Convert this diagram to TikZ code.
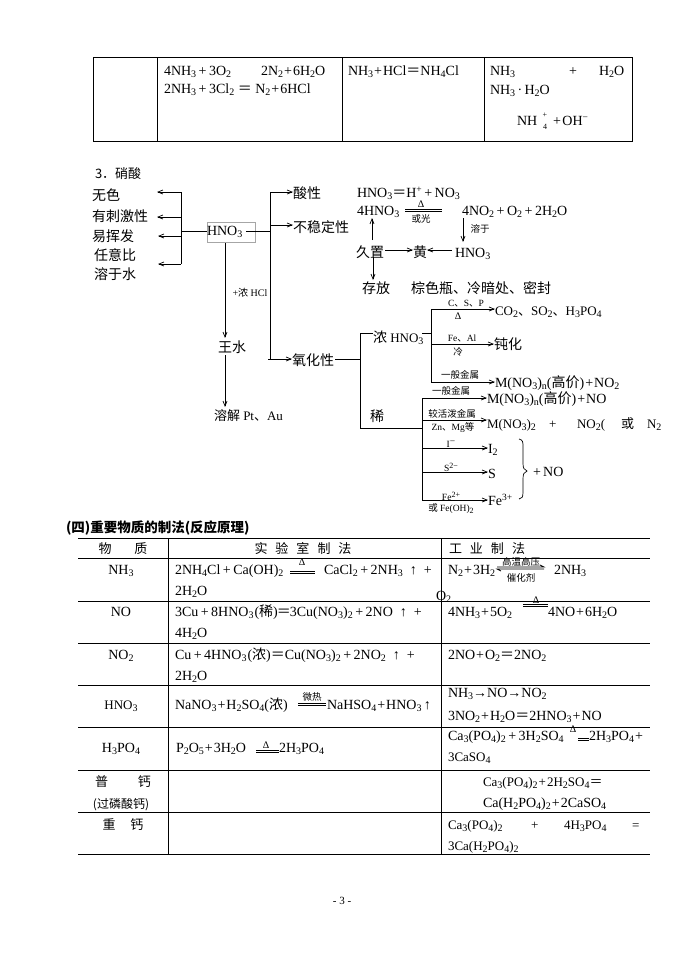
\documentclass[tikz,border=0pt]{standalone}
\usepackage{fontspec}
\setmainfont{Liberation Serif}
\newfontfamily\cj{Noto Sans CJK SC}
\usetikzlibrary{arrows.meta}
\newcommand\su[1]{\raisebox{-2.6pt}{\fontsize{10}{10}\selectfont #1}}
\newcommand\sq[1]{\raisebox{5pt}{\fontsize{9.5}{10}\selectfont #1}}
\newcommand\pl{\kern1pt+\kern1pt}
\newcommand\plw{\kern2.5pt+\kern2.5pt}
\newcommand\eq{{\cj ＝}}
\newcommand\T[4]{\node[txt] (#1) at (#2,#3) {#4};}
\newcommand\Tn[4]{\node[txt,narrow] (#1) at (#2,#3) {#4};}
\newcommand\Tc[4]{\node[ctxt] (#1) at (#2,#3) {#4};}
\newcommand\Sm[4]{\node[smtxt] (#1) at (#2,#3) {#4};}
\newcommand\Dl[3]{\draw[rule] (#1,#3) -- (#2,#3); \draw[rule] (#1,#3+2) -- (#2,#3+2);}
\tikzset{
  txt/.style={inner sep=0pt,outer sep=0pt,anchor=base west,font=\fontsize{14}{16}\selectfont},
  narrow/.style={font=\fontsize{13}{15}\selectfont},
  ctxt/.style={txt,anchor=base},
  smtxt/.style={inner sep=0pt,outer sep=0pt,anchor=center,font=\fontsize{9.5}{10}\selectfont},
  delta/.style={smtxt,font=\fontsize{10}{10}\selectfont},
  big/.style={font=\fontsize{14}{16}\selectfont\cj},
  cjh/.style={ctxt,font=\fontsize{13}{15}\selectfont\cj},
  rule/.style={line width=0.7pt,black},
  tab/.style={line width=0.9pt,black},
  arr/.style={line width=0.7pt,-{Straight Barb[length=5pt,width=4pt]}},
  con/.style={line width=0.7pt}
}
\begin{document}
\begin{tikzpicture}[x=1pt,y=-1pt]
\useasboundingbox[fill=white] (0,0) rectangle (688,972);
% top table
\draw[tab] (93,57) rectangle (632,141);
\foreach \x in {157,342,484} \draw[tab] (\x,57) -- (\x,141);
\T{a1}{164}{75}{4NH\su3\plw3O\su2}
\T{a2}{261}{75}{2N\su2\pl6H\su2O}
\T{a3}{164}{93}{2NH\su3\plw3Cl\su2\ \eq\ N\su2\pl6HCl}
\T{a4}{348}{75}{NH\su3\pl HCl\eq NH\su4Cl}
\T{a5}{490}{75}{NH\su3}
\T{a6}{569}{75}{+}
\T{a7}{599}{75}{H\su2O}
\T{a8}{490}{94}{NH\su3\,·\,H\su2O}
\T{a9}{517}{125}{NH}
\node[smtxt,font=\fontsize{8}{8}\selectfont] (a9p) at (545,115.5) {+};
\node[smtxt,font=\fontsize{8}{8}\selectfont] (a9q) at (545,127) {4};
\T{a9r}{553}{125}{+\kern1.5pt OH\sq{−}}
% section 3
\node[txt,narrow,cjh,anchor=base west] (s3) at (95,178) {3．硝酸};
\node[txt,big] (p1) at (92,200) {无色};
\node[txt,big] (p2) at (92,221) {有刺激性};
\node[txt,big] (p3) at (92,241) {易挥发};
\node[txt,big] (p4) at (94,260) {任意比};
\node[txt,big] (p5) at (94,279) {溶于水};
\node[inner sep=0pt,outer sep=0pt,draw=black!35,line width=0.8pt,minimum width=48pt,minimum height=20pt,text width=48pt,align=left,anchor=north west,font=\fontsize{14}{16}\selectfont] (hno) at (207,222) {HNO\su3};
% left bracket
\coordinate (lb1) at (181,192); \coordinate (lb2) at (181,217);
\coordinate (lb3) at (181,236); \coordinate (lb4) at (181,264);
\coordinate (lbm) at (181,231);
\coordinate (le1) at (157,192); \coordinate (le2) at (157,217);
\coordinate (le3) at (158,236); \coordinate (le4) at (158,264);
\draw[con] (lb1) -- (lb4);
\draw[con] (lbm) -- (lbm -| hno.west);
\draw[arr] (lb1) -- (le1); \draw[arr] (lb2) -- (le2);
\draw[arr] (lb3) -- (le3); \draw[arr] (lb4) -- (le4);
% right trunk
\coordinate (t1) at (270,192); \coordinate (t2) at (270,225);
\coordinate (tm) at (270,231); \coordinate (t3) at (270,359);
\coordinate (hr) at (246,231);
\draw[con] (t1) -- (t3);
\draw[con] (hr) -- (tm);
\node[txt,big] (acid) at (293,198) {酸性};
\node[txt,big] (unst) at (293,232) {不稳定性};
\node[txt,big] (oxid) at (292,365) {氧化性};
\draw[arr] (t1) -- (t1 -| acid.west);
\draw[arr] (t2) -- (t2 -| unst.west);
\draw[arr] (268,359) -- (t3 -| oxid.west);
% aqua regia
\node[txt,big] (wang) at (218,352) {王水};
\node[txt,narrow] (solv) at (214,420) {{\cj 溶解} Pt{\cj 、}Au};
\node[smtxt,font=\fontsize{10}{10}\selectfont] (hcl) at (250,293) {+{\cj 浓} HCl};
\coordinate (v1) at (225,243); \coordinate (v2) at (225,338);
\coordinate (v3) at (225,355); \coordinate (v4) at (225,407);
\draw[arr] (v1) -- (v2);
\draw[arr] (v3) -- (v4);
% instability
\T{b1}{357}{197}{HNO\su3\eq H\sq{+}\plw NO\su3}
\T{b2}{357}{215}{4HNO\su3}
\node[delta] (b3) at (421,204) {Δ};
\Dl{405}{442}{209.5}
\Sm{b4}{421}{219}{\cj 或光}
\T{b5}{462}{215}{4NO\su2\plw O\su2\plw2H\su2O}
\node[txt,big] (jz) at (356,257) {久置};
\node[txt,big] (yel) at (413,257) {黄};
\T{b6}{455}{257}{HNO\su3}
\node[txt,big] (cf) at (362,293) {存放};
\node[txt,big] (zs) at (411,293) {棕色瓶、冷暗处、密封};
\Sm{b7}{480}{229}{\cj 溶于}
\coordinate (c1) at (372,240); \coordinate (c2) at (372,218);
\coordinate (c3) at (373,257); \coordinate (c4) at (373,280);
\coordinate (c5) at (463,218); \coordinate (c6) at (463,242);
\coordinate (c7) at (385,250); \coordinate (c8) at (452,250);
\draw[arr] (c1) -- (c2);
\draw[arr] (c3) -- (c4);
\draw[arr] (c5) -- (c6);
\draw[arr] (c7) -- (c7 -| yel.west);
\draw[arr] (c8) -- (c8 -| yel.east);
% oxidising
\coordinate (o0) at (335,359); \coordinate (o1) at (360,359);
\coordinate (o2) at (360,333); \coordinate (o3) at (360,428);
\draw[con] (o0) -- (o1);
\node[txt,narrow] (conc) at (373,342) {{\cj\fontsize{14}{16}\selectfont 浓} HNO\su3};
\node[txt,big] (dil) at (370,421) {稀};
\coordinate (d1) at (422,398); \coordinate (d2) at (422,500);
\coordinate (d0) at (422,428);
\draw[con] (o2 -| conc.west) -- (o2) -- (o3) -- (d0);
\draw[con] (d1) -- (d2);
% concentrated branch
\coordinate (k1) at (431,309); \coordinate (k2) at (431,333);
\coordinate (k3) at (431,344); \coordinate (k4) at (431,382);
\draw[con] (k1) -- (k4);
\draw[con] (422,333) -- (k2);
\Tn{e1}{495}{315}{CO\su2{\cj 、}SO\su2{\cj 、}H\su3PO\su4}
\node[txt,big] (e2) at (494,349) {钝化};
\T{e3}{495}{387}{M(NO\su3)\su{n}({\cj 高价})\pl NO\su2}
\draw[arr] (k1) -- (k1 -| e1.west);
\draw[arr] (k3) -- (k3 -| e2.west);
\draw[arr] (k4) -- (k4 -| e3.west);
\Sm{l1}{466}{304}{C{\cj 、}S{\cj 、}P}
\node[delta] (l2) at (458,316) {Δ};
\Sm{l3}{462}{338}{Fe{\cj 、}Al}
\Sm{l4}{458}{352}{\cj 冷}
\Sm{l5}{460}{375}{\cj 一般金属}
% dilute branch
\T{f1}{487}{403}{M(NO\su3)\su{n}({\cj 高价})\pl NO}
\Tn{f2}{487}{428}{M(NO\su3)\su2}
\Tn{f3}{549}{428}{+}
\Tn{f4}{577}{428}{NO\su2(}
\Tn{f5}{621}{428}{\cj 或}
\Tn{f6}{647}{428}{N\su2}
\T{f7}{488}{453}{I\su2}
\T{f8}{488}{478}{S}
\T{f9}{488}{505}{Fe\sq{3+}}
\T{f10}{533}{476}{+\,NO}
\coordinate (m1) at (422,398); \coordinate (m2) at (422,420);
\coordinate (m3) at (422,448); \coordinate (m4) at (422,472);
\coordinate (m5) at (422,500);
\draw[arr] (m1) -- (m1 -| f1.west);
\draw[arr] (m2) -- (m2 -| f2.west);
\draw[arr] (m3) -- (m3 -| f7.west);
\draw[arr] (m4) -- (m4 -| f8.west);
\draw[arr] (m5) -- (m5 -| f9.west);
\Sm{g1}{451}{391}{\cj 一般金属}
\Sm{g2}{452}{414}{\cj 较活泼金属}
\Sm{g3}{453}{428}{Zn{\cj 、}Mg{\cj 等}}
\Sm{g4}{451}{444}{I\raisebox{3pt}{−}}
\Sm{g5}{451}{467}{S\raisebox{3pt}{\fontsize{8}{8}\selectfont 2−}}
\Sm{g6}{451}{496}{Fe\raisebox{3pt}{\fontsize{8}{8}\selectfont 2+}}
\Sm{g7}{451}{509}{{\cj 或} Fe(OH)\raisebox{-2pt}{\fontsize{8}{8}\selectfont 2}}
\draw[con] (519,439) .. controls (523,440) and (523,442) .. (523,447) -- (523,463)
  .. controls (523,468) and (524,470) .. (527,471)
  .. controls (524,472) and (523,474) .. (523,479) -- (523,492)
  .. controls (523,497) and (522,499) .. (519,499);
% section 4
\node[txt,font=\fontsize{13.5}{15}\bfseries\cj] (h4) at (66,532) {(四)重要物质的制法(反应原理)};
% lower table
\foreach \y in {538,558,601,643,685,727,770,812,854} \draw[tab] (78,\y) -- (650,\y);
\foreach \x in {168,441} \draw[tab] (\x,538) -- (\x,854);
\node[cjh] (th1) at (123,553) {物\hspace{23pt}质};
\node[cjh] (th2) at (303,553) {实\hspace{8pt}验\hspace{8pt}室\hspace{8pt}制\hspace{8pt}法};
\node[cjh] (th3) at (487,553) {工\hspace{8pt}业\hspace{8pt}制\hspace{8pt}法};
% NH3
\Tc{r1}{121}{574}{NH\su3}
\T{r1a}{175}{574}{2NH\su4Cl\plw Ca(OH)\su2}
\Dl{290}{315}{571.5}
\node[delta] (r1b) at (302,562) {Δ};
\T{r1c}{324}{574}{CaCl\su2\plw2NH\su3\ \ ↑\ \ +}
\T{r1d}{175}{595}{2H\su2O}
\T{r1e}{448}{574}{N\su2\pl3H\su2}
\draw[rule] (497,567) -- (544,567) -- (540,565);
\draw[rule] (501,571) -- (497,569) -- (544,569);
\Sm{r1f}{521}{562}{\cj 高温高压}
\Sm{r1g}{521}{578}{\cj 催化剂}
\T{r1h}{554}{574}{2NH\su3}
\T{r1i}{436}{600}{O\su2}
% NO
\Tc{r2}{121}{616}{NO}
\T{r2a}{175}{616}{3Cu\plw8HNO\su3\kern1pt({\cj 稀})\kern-1pt\eq\kern-1pt3Cu(NO\su3)\su2\plw2NO\ \ ↑\ \ +}
\T{r2b}{175}{637}{4H\su2O}
\T{r2c}{448}{616}{4NH\su3\pl5O\su2}
\Dl{523}{548}{604.5}
\node[delta] (r2d) at (536,600) {Δ};
\T{r2e}{548}{616}{4NO\pl6H\su2O}
% NO2
\Tc{r3}{121}{659}{NO\su2}
\T{r3a}{175}{659}{Cu\plw4HNO\su3\kern1pt({\cj 浓})\eq Cu(NO\su3)\su2\plw2NO\su2\ \ ↑\ \ +}
\T{r3b}{175}{680}{2H\su2O}
\T{r3c}{448}{659}{2NO\pl O\su2\eq2NO\su2}
% HNO3
\node[ctxt,narrow] (r4) at (121,709) {HNO\su3};
\T{r4a}{175}{709}{NaNO\su3\pl H\su2SO\su4({\cj 浓})}
\Dl{298}{326}{703}
\Sm{r4b}{312}{697}{\cj 微热}
\T{r4c}{327}{709}{NaHSO\su4\pl HNO\su3\,↑}
\T{r4d}{448}{697}{NH\su3→NO→NO\su2}
\T{r4e}{448}{720}{3NO\su2\pl H\su2O\eq2HNO\su3\pl NO}
\node[delta] (r4f) at (573,729) {Δ};
% H3PO4
\Tc{r5}{121}{752}{H\su3PO\su4}
\T{r5a}{176}{752}{P\su2O\su5\pl3H\su2O}
\Dl{256}{279}{750}
\node[delta] (r5b) at (266,745) {Δ};
\T{r5c}{279}{752}{2H\su3PO\su4}
\T{r5d}{448}{740}{Ca\su3(PO\su4)\su2\plw3H\su2SO\su4}
\Dl{578}{589}{738}
\T{r5e}{589}{740}{2H\su3PO\su4\pl}
\Tn{r5f}{448}{761}{3CaSO\su4}
% superphosphate
\node[cjh] (r6) at (123,786) {普\hspace{30pt}钙};
\node[ctxt,font=\fontsize{12}{14}\selectfont\cj] (r6a) at (121,808) {(过磷酸钙)};
\Tn{r6b}{483}{786}{Ca\su3(PO\su4)\su2\pl2H\su2SO\su4\eq}
\T{r6c}{483}{807}{Ca(H\su2PO\su4)\su2\pl2CaSO\su4}
% triple
\node[cjh] (r7) at (123,829) {重\hspace{15pt}钙};
\Tn{r7a}{448}{829}{Ca\su3(PO\su4)\su2}
\Tn{r7b}{531}{829}{+}
\Tn{r7c}{564}{829}{4H\su3PO\su4}
\Tn{r7d}{632}{829}{=}
\Tn{r7e}{448}{850}{3Ca(H\su2PO\su4)\su2}
\node[ctxt,font=\fontsize{11}{13}\selectfont] (pg) at (342,904) {- 3 -};
\end{tikzpicture}
\end{document}
